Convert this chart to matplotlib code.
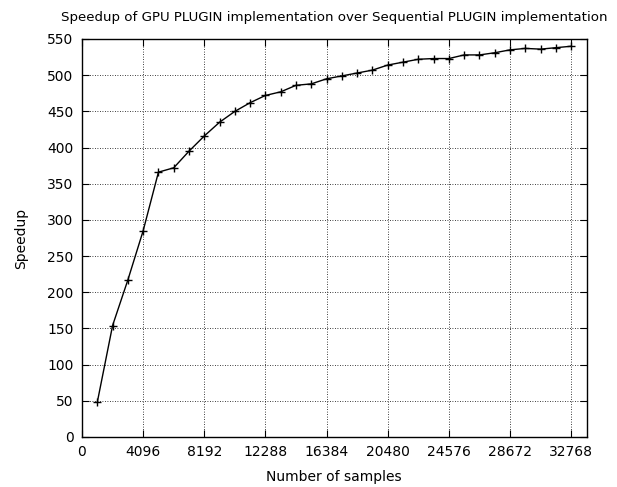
import numpy as np
import matplotlib
matplotlib.use("Agg")
import matplotlib.pyplot as plt

# Data
samples = [1024 * i for i in range(1, 33)]
speedup = [48, 154, 217, 285, 366, 372, 395, 416, 435, 450, 462, 472,
           477, 486, 488, 495, 499, 503, 507, 514, 518, 522, 523, 523,
           528, 528, 531, 535, 537, 536, 538, 540]
xticks = [0, 4096, 8192, 12288, 16384, 20480, 24576, 28672, 32768]
yticks = list(range(0, 551, 50))

plt.rcParams['font.family'] = 'DejaVu Sans'
plt.rcParams['font.size'] = 10

fig = plt.figure(figsize=(6.17, 4.87), dpi=100)
ax = fig.add_axes([82 / 617, 1 - 437 / 487, (586.5 - 82) / 617, (437 - 39) / 487])

ax.plot(samples, speedup, color='black', lw=1.0, marker='+', markersize=6,
        markeredgewidth=1.0)

ax.set_xlim(0, 33792)
ax.set_ylim(0, 550)
ax.set_xticks(xticks)
ax.set_yticks(yticks)
ax.grid(True, color='black', linestyle=(0, (1, 2)), linewidth=0.6)
ax.tick_params(direction='in', top=True, right=True, length=5, width=0.8,
               labelsize=10, pad=6)
for s in ax.spines.values():
    s.set_linewidth(1.0)

ax.set_xlabel("Number of samples", fontsize=10, labelpad=8)
ax.set_ylabel("Speedup", fontsize=10, labelpad=14)
ax.set_title("Speedup of GPU PLUGIN implementation over Sequential PLUGIN implementation",
             fontsize=9.6, pad=13)

plt.savefig("out.png", dpi=100)
plt.close()
